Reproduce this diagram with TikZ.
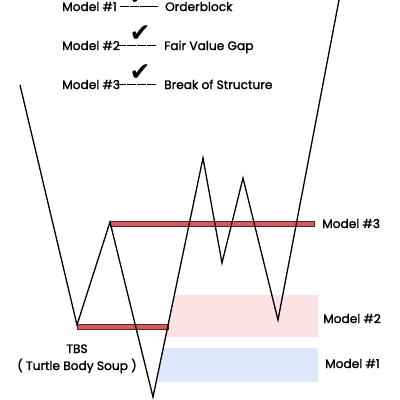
\documentclass[tikz,border=0pt]{standalone}
\usepackage{fontspec}
\setmainfont{Poppins}[FakeBold=1.6]
\newfontfamily\symfont{DejaVu Sans}
\definecolor{barred}{RGB}{214,92,92}
\definecolor{bardark}{RGB}{90,35,35}
\definecolor{zonepink}{RGB}{252,225,229}
\definecolor{zoneblue}{RGB}{221,232,250}
\newcommand{\dsh}{\rule[3.7pt]{9pt}{1.5pt}}
\tikzset{
  price/.style={black, line width=1.3pt, line join=miter},
  levelbar/.style={fill=barred, draw=bardark, line width=0.6pt},
  lbl/.style={font=\fontsize{12.2}{14}\selectfont, inner sep=0pt, anchor=base west},
  clbl/.style={font=\fontsize{12.2}{14}\selectfont, inner sep=0pt, anchor=base},
  tick/.style={font=\symfont\fontsize{25}{26}\selectfont, inner sep=0pt},
  dashes/.style={font=\fontsize{12}{14}\selectfont, inner sep=0pt, anchor=base west}
}
\begin{document}
\begin{tikzpicture}[x=1pt,y=-1pt]
\useasboundingbox (0,0) rectangle (400,400);
\clip (0,0) rectangle (400,400);
% price path vertices
\coordinate (p0) at (20,85);
\coordinate (p1) at (77,325);
\coordinate (p2) at (110,222);
\coordinate (p3) at (153,397);
\coordinate (p4) at (203,158);
\coordinate (p5) at (222,263);
\coordinate (p6) at (243,178);
\coordinate (p7) at (278,320);
\coordinate (p8) at (339,0);
% zones
\fill[zonepink] (174.3,295) -- (318,295) -- (318,337) -- (165.6,337) -- cycle;
\fill[zoneblue] (163.3,348) -- (318,348) -- (318,382) -- (156.1,382) -- cycle;
% bars
\draw[levelbar] (77,324) rectangle (168,329);
\draw[levelbar] (110,221) rectangle (314,226);
% price line
\draw[price] (p0) -- (p1) -- (p2) -- (p3) -- (p4) -- (p5) -- (p6) -- (p7) -- (p8);
% legend
\node[lbl] (m1) at (62,11) {Model \#1};
\node[dashes] (d1) at (120,11) {\makebox[38pt][s]{\dsh\hfil\dsh\hfil\dsh\hfil\dsh}};
\node[lbl] (t1) at (165,11) {Orderblock};
\node[tick] (c1) at (139,-3) {✔};
\node[lbl] (m2) at (62,50) {Model \#2};
\node[dashes] (d2) at (117,50) {\makebox[39pt][s]{\dsh\hfil\dsh\hfil\dsh\hfil\dsh}};
\node[lbl] (t2) at (164,50) {Fair Value Gap};
\node[tick] (c2) at (140,34) {✔};
\node[lbl] (m3) at (62,89) {Model \#3};
\node[dashes] (d3) at (117,89) {\makebox[39pt][s]{\dsh\hfil\dsh\hfil\dsh\hfil\dsh}};
\node[lbl] (t3) at (164,89) {Break of Structure};
\node[tick] (c3) at (140,73) {✔};
% right labels
\node[lbl] (r3) at (322,228) {Model \#3};
\node[lbl] (r2) at (323,323) {Model \#2};
\node[lbl] (r1) at (325,368) {Model \#1};
% TBS
\node[clbl] (tbs) at (77,353) {TBS};
\node[clbl] (tbs2) at (77,370) {( Turtle Body Soup )};
\end{tikzpicture}
\end{document}
